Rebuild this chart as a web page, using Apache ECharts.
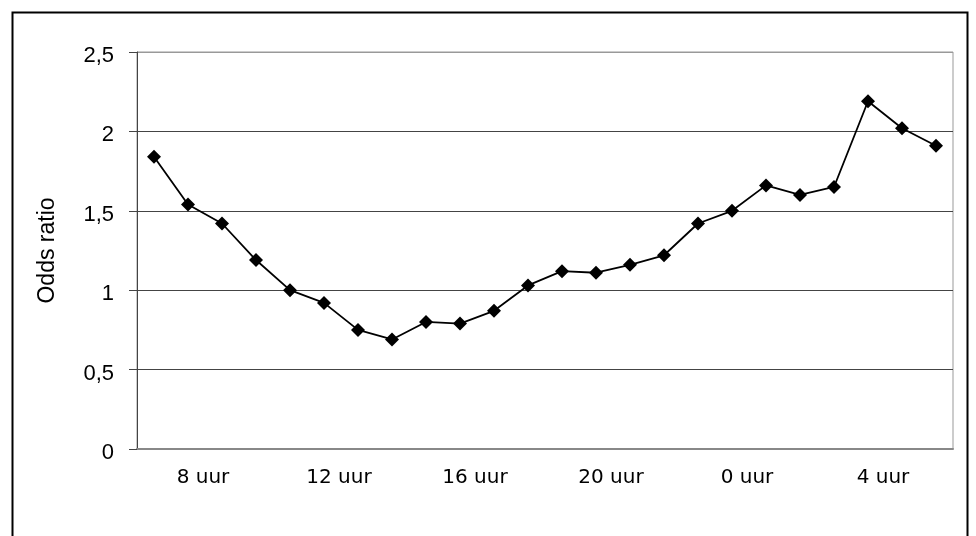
<!DOCTYPE html>
<html>
<head>
<meta charset="utf-8">
<script src="https://cdn.jsdelivr.net/npm/echarts@6/dist/echarts.min.js"></script>
<style>html,body{margin:0;padding:0;background:#fff;}#c{width:976px;height:536px;}</style>
</head>
<body>
<div id="c"></div>
<script>
const hours = ["7 uur","8 uur","9 uur","10 uur","11 uur","12 uur","13 uur","14 uur","15 uur","16 uur","17 uur","18 uur","19 uur","20 uur","21 uur","22 uur","23 uur","0 uur","1 uur","2 uur","3 uur","4 uur","5 uur","6 uur"];
const oddsRatio = [1.84,1.54,1.42,1.19,1.00,0.92,0.75,0.69,0.80,0.79,0.87,1.03,1.12,1.11,1.16,1.22,1.42,1.50,1.66,1.60,1.65,2.19,2.02,1.91];
const yTicks = {min: 0, max: 2.5, interval: 0.5};

const chart = echarts.init(document.getElementById('c'));
chart.setOption({
  animation: false,
  backgroundColor: '#fff',
  graphic: [{
    type: 'rect', left: 10, top: 10,
    shape: {width: 955, height: 560},
    style: {fill: 'none', stroke: '#000', lineWidth: 2}
  }],
  grid: {left: 137, right: 23, top: 52, bottom: 87, show: true, borderColor: '#999', borderWidth: 1},
  xAxis: {
    type: 'category',
    data: hours,
    boundaryGap: true,
    axisLine: {lineStyle: {color: '#888', width: 2}},
    axisTick: {show: false},
    axisLabel: {
      interval: function (i) { return i % 4 === 1; },
      fontFamily: 'DejaVu Sans', fontSize: 20, color: '#000', margin: 19,
      padding: [0, 0, 0, 30]
    }
  },
  yAxis: {
    type: 'value',
    min: yTicks.min, max: yTicks.max, interval: yTicks.interval,
    name: 'Odds ratio',
    nameLocation: 'middle',
    nameGap: 78,
    nameTextStyle: {fontFamily: 'Liberation Sans', fontSize: 23, color: '#000'},
    axisLine: {show: true, lineStyle: {color: '#444', width: 1}},
    axisTick: {show: true, inside: false, length: 8, lineStyle: {color: '#444'}},
    axisLabel: {
      fontFamily: 'Liberation Sans', fontSize: 22, color: '#000', margin: 23,
      verticalAlign: 'top', lineHeight: 8,
      formatter: function (v) { return String(v).replace('.', ','); }
    },
    splitLine: {lineStyle: {color: ['#888', '#444', '#444', '#444', '#444', '#999'], width: 1}}
  },
  series: [{
    type: 'line',
    data: oddsRatio,
    symbol: 'diamond',
    symbolSize: 14,
    showAllSymbol: true,
    lineStyle: {color: '#000', width: 1.8},
    itemStyle: {color: '#000'}
  }]
});
</script>
</body>
</html>
